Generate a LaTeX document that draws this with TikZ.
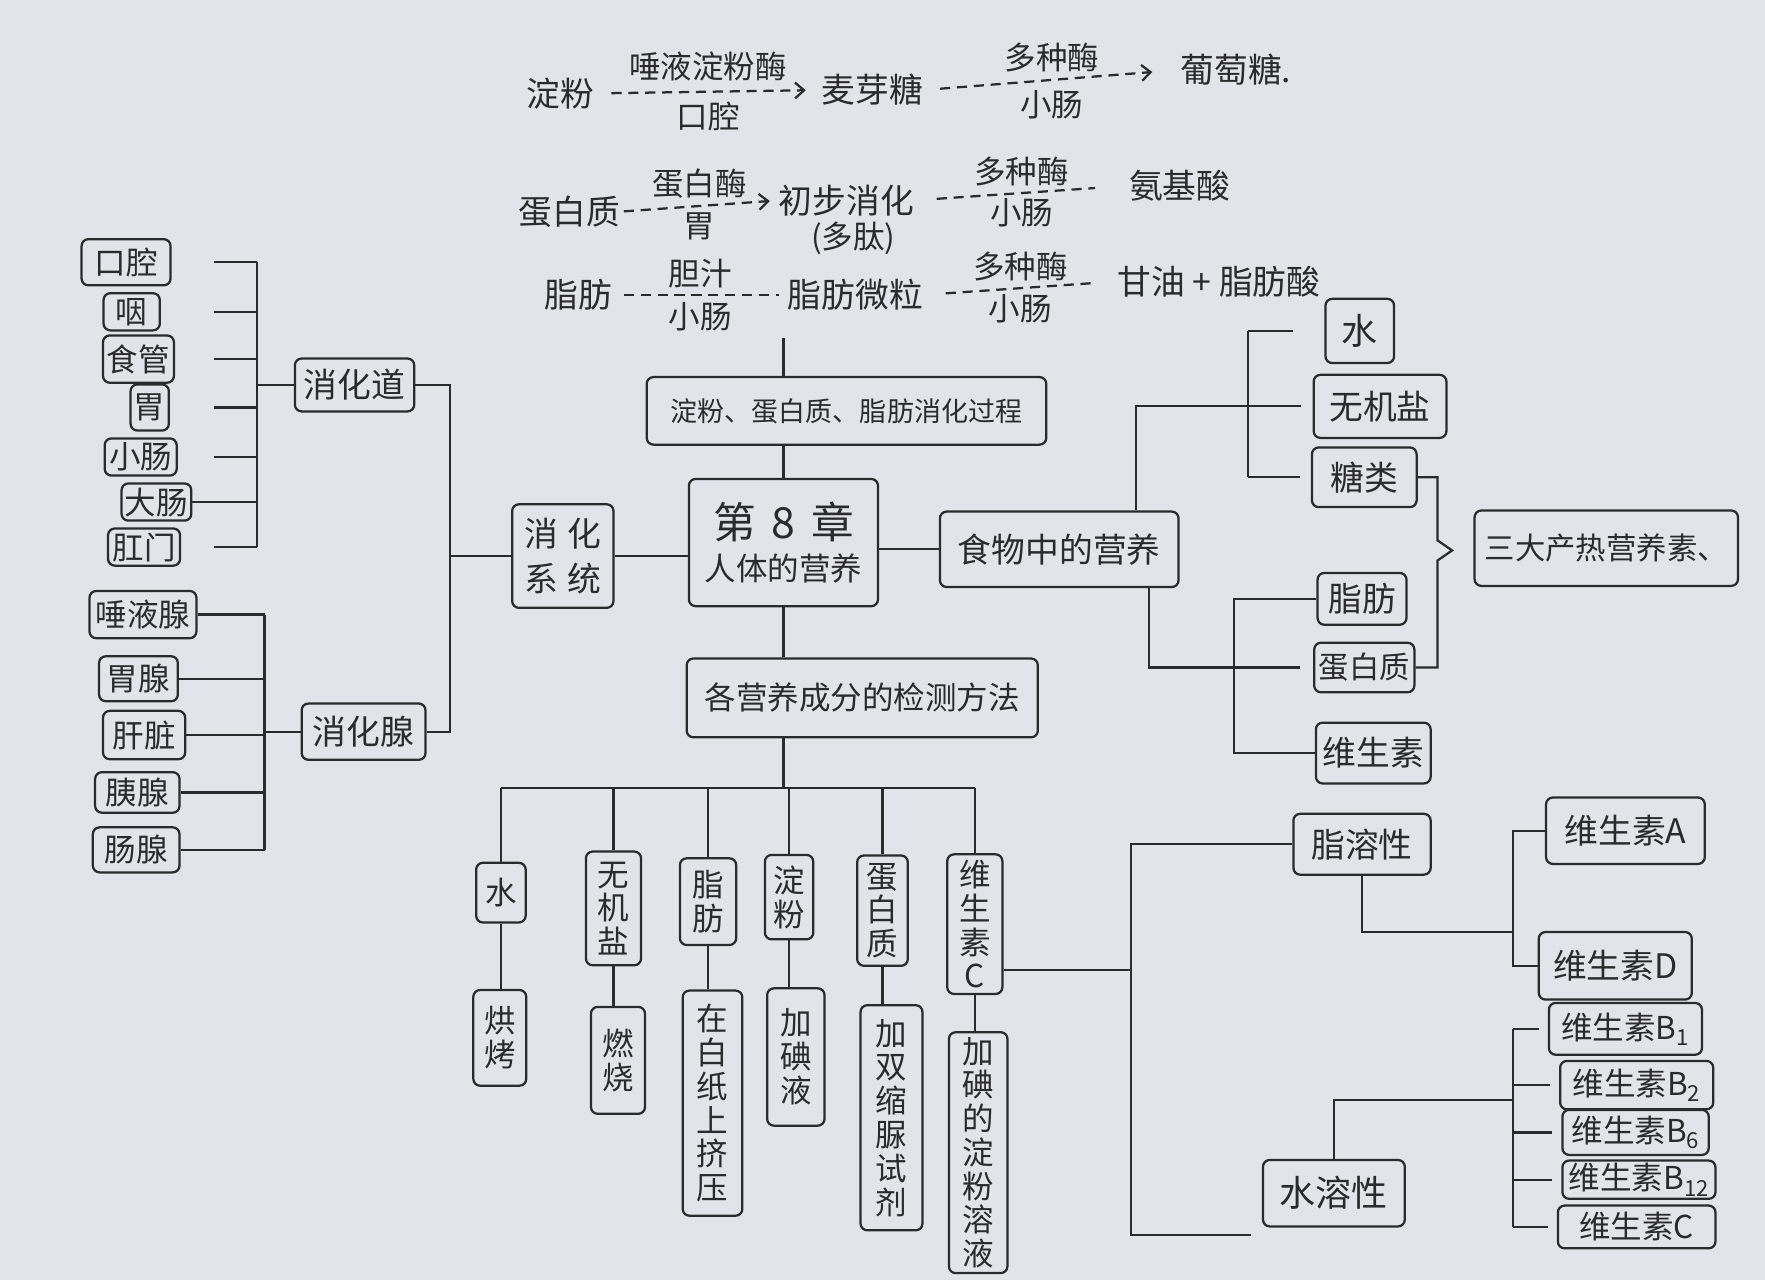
\documentclass[tikz,border=0pt]{standalone}
\usepackage{fontspec}
\newfontfamily\cjk{Noto Sans CJK SC}
\usetikzlibrary{arrows.meta}
\definecolor{paper}{HTML}{E3E4E9}
\definecolor{ink}{HTML}{2B2B2E}
\begin{document}
\begin{tikzpicture}[x=1pt,y=-1pt,
  every node/.style={font=\cjk\fontsize{30}{34}\selectfont, text=ink, inner sep=0pt},
  bx/.style={draw=ink, line width=2pt, rounded corners=6pt},
  sz/.style 2 args={minimum width=#1, minimum height=#2},
  ln/.style={draw=ink, line width=2pt},
  dl/.style={ln, dash pattern=on 9pt off 6pt},
  arr/.style={-{Straight Barb[length=8pt,width=14pt,line width=2pt]}},
  vt/.style={align=center, font=\cjk\fontsize{28}{30}\selectfont},
  lab/.style={font=\cjk\fontsize{28}{30}\selectfont},
  sm/.style={font=\cjk\fontsize{28}{30}\selectfont},
]
\fill[paper] (0,0) rectangle (1568,1137);
\useasboundingbox (0,0) rectangle (1568,1137);

% ---------- top: digestion process rows ----------
\node (r1a) at (498,83) {淀粉};
\node (r1b) at (775,80) {麦芽糖};
\node (r1c) at (1098,62) {葡萄糖.};
\draw[dl,arr,shorten <=15pt,shorten >=14pt] (r1a.east) -- (r1b.west)
  node[lab,midway,above=8pt] {唾液淀粉酶} node[lab,midway,below=8pt] {口腔};
\draw[dl,arr,shorten <=15pt,shorten >=25pt] (r1b.east) -- (r1c.west)
  node[lab,midway,above=6pt] {多种酶} node[lab,midway,below=8pt] {小肠};

\node (r2a) at (506,188) {蛋白质};
\node (r2b) at (752,178) {初步消化};
\node[lab] (r2p) at (758,212) {(多肽)};
\node (r2c) at (1048,165) {氨基酸};
\draw[dl,arr,shorten <=3pt,shorten >=8pt] (r2a.east) -- (r2b.west)
  node[lab,midway,above=6pt] {蛋白酶} node[lab,midway,below=5pt] {胃};
\draw[dl,shorten <=20pt,shorten >=30pt] (r2b.east) -- (r2c.west)
  node[lab,midway,above=5pt] {多种酶} node[lab,midway,below=4pt] {小肠};

\node (r3a) at (514,262) {脂肪};
\node (r3b) at (760,262) {脂肪微粒};
\node (r3c) at (1083,250) {甘油 + 脂肪酸};
\draw[dl,shorten <=10pt,shorten >=8pt] (r3a.east) -- (r3b.west)
  node[lab,midway,above=5pt] {胆汁} node[lab,midway,below=6pt] {小肠};
\draw[dl,shorten <=20pt,shorten >=22pt] (r3b.east) -- (r3c.west)
  node[lab,midway,above=5pt] {多种酶} node[lab,midway,below=5pt] {小肠};

% ---------- centre ----------
\node[bx,sz={355}{60},font=\cjk\fontsize{24}{28}\selectfont] (proc) at (752,365) {淀粉、蛋白质、脂肪消化过程};
\node[bx,sz={168}{113},align=center] (zhang) at (696,482)
  {{\fontsize{38}{44}\selectfont 第\hspace{14pt}8\hspace{14pt}章}\\[4pt]{\fontsize{28}{32}\selectfont 人体的营养}};
\node[bx,sz={90}{92},align=center] (xt) at (500,494) {消\hspace{8pt}化\\[6pt]系\hspace{8pt}统};
\node[bx,sz={212}{67}] (food) at (941,488) {食物中的营养};
\node[bx,sz={312}{70},font=\cjk\fontsize{28}{30}\selectfont] (jc) at (766,620) {各营养成分的检测方法};

\draw[ln,shorten <=24pt] (zhang |- r3b.south) -- (zhang |- proc.north);
\draw[ln] (zhang |- proc.south) -- (zhang.north);
\draw[ln] (xt.east) -- (xt.east -| zhang.west);
\draw[ln] (food.west -| zhang.east) -- (food.west);
\draw[ln] (zhang.south) -- (zhang.south |- jc.north);

% ---------- left: digestive system ----------
\node[bx,sz={106}{47}] (dao) at (315,342) {消化道};
\node[bx,sz={110}{50}] (xian) at (323,650) {消化腺};
\node[bx,sm,sz={79}{41}] (kq) at (112,233) {口腔};
\node[bx,sm,sz={50}{33}] (yan) at (117,277) {咽};
\node[bx,sm,sz={63}{42}] (sg) at (123,319) {食管};
\node[bx,sm,sz={34}{41}] (wei) at (133,362) {胃};
\node[bx,sm,sz={64}{33}] (xc) at (125,406) {小肠};
\node[bx,sm,sz={62}{33}] (dc) at (139,446) {大肠};
\node[bx,sm,sz={64}{33}] (gm) at (128,486) {肛门};
\node[bx,sm,sz={95}{42}] (tyx) at (127,546) {唾液腺};
\node[bx,sm,sz={70}{40}] (wx) at (123,603) {胃腺};
\node[bx,sm,sz={73}{43}] (gz) at (128,653) {肝脏};
\node[bx,sm,sz={75}{36}] (yx) at (122,704) {胰腺};
\node[bx,sm,sz={77}{40}] (cx) at (121,755) {肠腺};

\coordinate (bA0) at (190,0);
\coordinate (bA) at (228,0);
\coordinate (bB) at (235,0);
\coordinate (bC) at (400,0);
\foreach \n in {kq,yan,sg,wei,xc,gm} \draw[ln] (\n -| bA0) -- (\n -| bA);
\draw[ln] (dc.east) -- (dc -| bA);
\draw[ln] (kq -| bA) -- (gm -| bA);
\draw[ln] (dao.west) -- (dao -| bA);
\foreach \n in {tyx,wx,gz,yx,cx} \draw[ln] (\n.east) -- (\n -| bB);
\draw[ln] (tyx -| bB) -- (cx -| bB);
\draw[ln] (xian.west) -- (xian -| bB);
\draw[ln] (dao.east) -- (dao -| bC) -- (xian -| bC) -- (xian.east);
\draw[ln] (xt.west) -- (xt -| bC);

% ---------- bottom: detection methods ----------
\node[bx,vt,sz={44}{53}] (t1) at (445,793) {水};
\node[bx,vt,sz={49}{101}] (t2) at (545,807) {无\\机\\盐};
\node[bx,vt,sz={50}{77}] (t3) at (629,801) {脂\\肪};
\node[bx,vt,sz={43}{75}] (t4) at (701,797) {淀\\粉};
\node[bx,vt,sz={45}{98}] (t5) at (784,809) {蛋\\白\\质};
\node[bx,vt,sz={49}{124}] (t6) at (866,821) {维\\生\\素\\C};
\node[bx,vt,sz={47}{85}] (m1) at (444,922) {烘\\烤};
\node[bx,vt,sz={48}{95}] (m2) at (549,942) {燃\\烧};
\node[bx,vt,sz={53}{200}] (m3) at (633,980) {在\\白\\纸\\上\\挤\\压};
\node[bx,vt,sz={51}{122}] (m4) at (707,939) {加\\碘\\液};
\node[bx,vt,sz={55}{200}] (m5) at (792,993) {加\\双\\缩\\脲\\试\\剂};
\node[bx,vt,sz={52}{214}] (m6) at (869,1024) {加\\碘\\的\\淀\\粉\\溶\\液};

\coordinate (bD) at (0,700);
\draw[ln] (zhang.south |- jc.south) -- (zhang |- bD);
\draw[ln] (t1 |- bD) -- (t6 |- bD);
\foreach \t/\m in {t1/m1,t2/m2,t3/m3,t4/m4,t5/m5,t6/m6} {
  \draw[ln] (\t |- bD) -- (\t.north);
  \draw[ln] (\t.south) -- (\t.south |- \m.north);
}

% ---------- vitamins ----------
\node[bx,sz={122}{54}] (zr) at (1210,750) {脂溶性};
\node[bx,sz={126}{59},font=\cjk\fontsize{32}{34}\selectfont] (sr) at (1185,1060) {水溶性};
\node[bx,sz={141}{59}] (vA) at (1444,738) {维生素A};
\node[bx,sz={136}{60}] (vD) at (1435,858) {维生素D};
\node[bx,sm,sz={136}{46}] (vB1) at (1444,914) {维生素B\textsubscript{1}};
\node[bx,sm,sz={136}{43}] (vB2) at (1454,964) {维生素B\textsubscript{2}};
\node[bx,sm,sz={130}{40}] (vB6) at (1453,1006) {维生素B\textsubscript{6}};
\node[bx,sm,sz={136}{34}] (vB12) at (1456,1048) {维生素B\textsubscript{12}};
\node[bx,sm,sz={140}{38}] (vC) at (1454,1090) {维生素C};

\coordinate (vb) at (1005,862);
\coordinate (vbB) at (1005,1097);
\coordinate (vbE) at (1111,1097);
\coordinate (fb) at (1344,0);
\coordinate (fz) at (1344,828);
\coordinate (wz) at (1344,977);
\draw[ln] (t6.east |- vb) -- (vb);
\draw[ln] (zr.west) -- (zr.west -| vb) -- (vbB) -- (vbE);
\draw[ln] (zr.south) |- (fz);
\draw[ln] (vA.west) -- (vA.west -| fb) -- (vD.west -| fb) -- (vD.west);
\draw[ln] (sr.north) |- (wz);
\draw[ln] (vB1.west -| fb) -- (vC.west -| fb);
\foreach \n in {vB1,vB2,vB6,vB12,vC} \draw[ln,shorten >=8pt] (\n.west -| fb) -- (\n.west);

% ---------- right: nutrients in food ----------
\node[bx,sz={61}{57},font=\cjk\fontsize{32}{34}\selectfont] (s1) at (1208,294) {水};
\node[bx,sz={118}{56}] (s2) at (1226,361) {无机盐};
\node[bx,sz={93}{53}] (s3) at (1212,424) {糖类};
\node[bx,sz={79}{46}] (s4) at (1210,532) {脂肪};
\node[bx,sz={89}{44},font=\cjk\fontsize{27}{30}\selectfont] (s5) at (1212,593) {蛋白质};
\node[bx,sz={102}{54}] (s6) at (1220,669) {维生素};
\node[bx,sz={234}{67},font=\cjk\fontsize{27}{30}\selectfont] (big) at (1427,487) {三大产热营养素、};

\coordinate (rb1) at (1109,0);
\coordinate (rb2) at (1096,0);
\coordinate (fx1) at (1009,0);
\coordinate (fx2) at (1021,0);
\coordinate (br) at (1277,0);
\coordinate (brA) at (1277,480);
\coordinate (brT) at (1290,489);
\coordinate (brB) at (1277,498);
\draw[ln,shorten >=28pt] (s1.west -| rb1) -- (s1.west);
\draw[ln] (s1.west -| rb1) -- (s3.west -| rb1);
\draw[ln,shorten >=10pt] (s3.west -| rb1) -- (s3.west);
\draw[ln,shorten >=10pt] (food.north -| fx1) |- (s2.west);
\draw[ln,shorten >=12pt] (food.south -| fx2) |- (s5.west);
\draw[ln] (s4.west) -- (s4.west -| rb2) -- (s6.west -| rb2) -- (s6.west);
\draw[ln] (s3.east) -- (s3.east -| br) -- (brA) -- (brT) -- (brB) -- (s5.east -| br) -- (s5.east);
\end{tikzpicture}
\end{document}
